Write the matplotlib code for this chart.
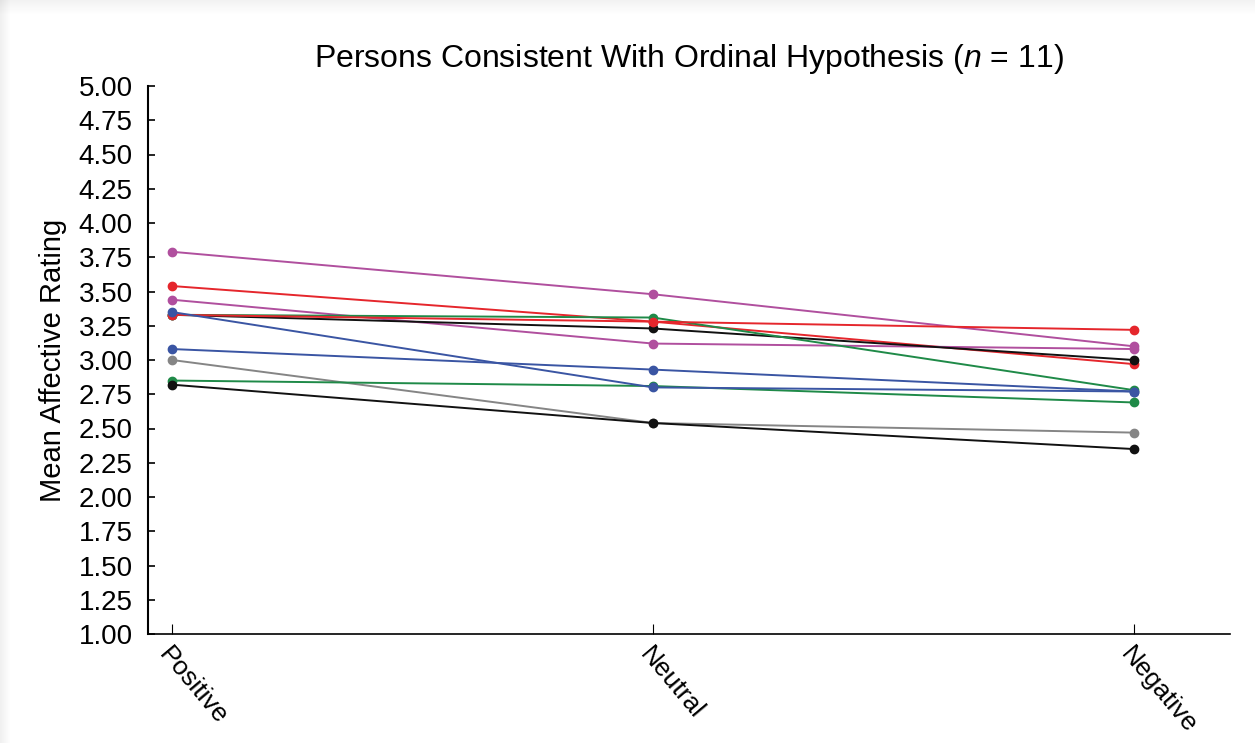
import matplotlib
matplotlib.use("Agg")
import matplotlib.pyplot as plt
import numpy as np
from matplotlib import font_manager

conditions = ["Positive", "Neutral", "Negative"]

magenta_1 = [3.79, 3.48, 3.10]
red_1 = [3.54, 3.28, 2.97]
magenta_2 = [3.44, 3.12, 3.08]
black_1 = [3.33, 3.23, 3.00]
green_1 = [3.33, 3.31, 2.78]
red_2 = [3.33, 3.28, 3.22]
blue_1 = [3.35, 2.80, 2.77]
blue_2 = [3.08, 2.93, 2.77]
gray_1 = [3.00, 2.54, 2.47]
green_2 = [2.85, 2.81, 2.69]
black_2 = [2.82, 2.54, 2.35]

yticks = [1.00, 1.25, 1.50, 1.75, 2.00, 2.25, 2.50, 2.75, 3.00, 3.25, 3.50, 3.75, 4.00, 4.25, 4.50, 4.75, 5.00]

names = {f.name for f in font_manager.fontManager.ttflist}
fam = "Liberation Sans Narrow" if "Liberation Sans Narrow" in names else "Liberation Sans"
plt.rcParams["font.family"] = [fam, "DejaVu Sans"]
plt.rcParams["mathtext.fontset"] = "custom"
plt.rcParams["mathtext.it"] = fam + ":italic"
plt.rcParams["mathtext.rm"] = fam

C_MAG = "#b04f9e"
C_RED = "#e5262c"
C_BLK = "#111111"
C_GRN = "#1f8a48"
C_BLU = "#3a55a3"
C_GRY = "#858585"

series = [
    (magenta_1, C_MAG), (red_1, C_RED), (magenta_2, C_MAG), (black_1, C_BLK),
    (green_1, C_GRN), (red_2, C_RED), (blue_2, C_BLU), (gray_1, C_GRY),
    (green_2, C_GRN), (black_2, C_BLK), (blue_1, C_BLU),
]

fig = plt.figure(figsize=(12.55, 7.43), dpi=100)
# subtle page shadow on the left/top edges
for i in range(10):
    a = 0.06 * (10 - i) / 10
    fig.patches.append(plt.Rectangle((i / 1255, 0), 1 / 1255, 1, transform=fig.transFigure,
                                     color="black", alpha=a, lw=0, zorder=-1))
for i in range(14):
    a = 0.05 * (14 - i) / 14
    fig.patches.append(plt.Rectangle((0, 1 - (i + 1) / 743), 1, 1 / 743, transform=fig.transFigure,
                                     color="black", alpha=a, lw=0, zorder=-1))

ax = fig.add_axes([148 / 1255, 1 - 634 / 743, (1230 - 148) / 1255, (634 - 86) / 743])
x = np.arange(len(conditions))
for vals, col in series:
    ax.plot(x, vals, color=col, lw=1.4, marker="o", ms=6, mec=col, mfc=col)

ax.set_xlim(-0.05, 2.2)
ax.set_ylim(1.0, 5.0)
ax.set_yticks(yticks)
ax.set_yticklabels([f"{v:.2f}" for v in yticks], fontsize=20)
ax.set_xticks(x)
ax.set_xticklabels(conditions, fontsize=19, rotation=-50, ha="left", va="top",
                   rotation_mode="anchor")
ax.tick_params(axis="y", direction="in", length=5, width=1.2, pad=11)
ax.tick_params(axis="x", direction="in", length=7, width=0.8, pad=6)
ax.spines["top"].set_visible(False)
ax.spines["right"].set_visible(False)
ax.spines["left"].set_linewidth(1.5)
ax.spines["bottom"].set_linewidth(1.2)
ax.set_ylabel("Mean Affective Rating", fontsize=21, labelpad=8)
ax.set_title("Persons Consistent With Ordinal Hypothesis ($n$ = 11)", fontsize=23, pad=14)

fig.savefig("out.png", dpi=100, facecolor="white")
